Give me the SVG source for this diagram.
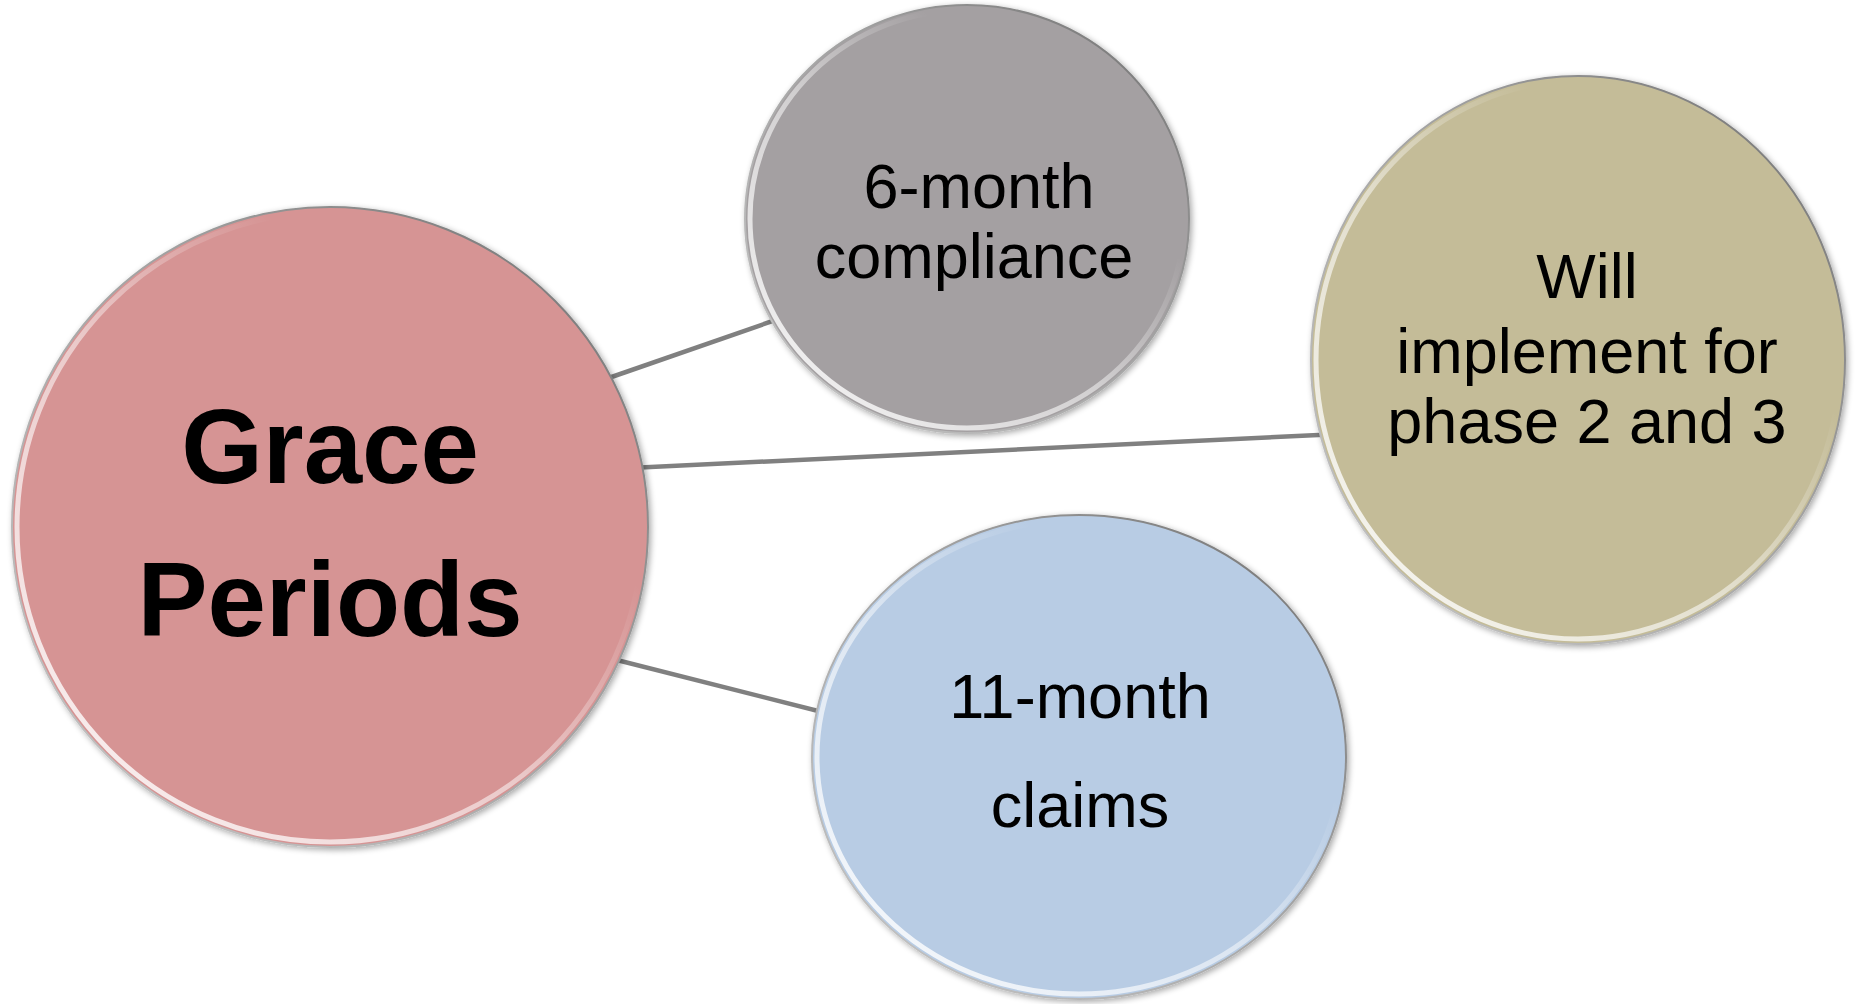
<svg xmlns="http://www.w3.org/2000/svg" width="1855" height="1004" viewBox="0 0 1855 1004">
  <defs>
    <linearGradient id="hl" x1="0" y1="1" x2="1" y2="0">
      <stop offset="0" stop-color="#ffffff" stop-opacity="0.95"/>
      <stop offset="0.45" stop-color="#ffffff" stop-opacity="0.5"/>
      <stop offset="0.7" stop-color="#ffffff" stop-opacity="0"/>
    </linearGradient>
    <linearGradient id="rim" x1="0" y1="1" x2="1" y2="0">
      <stop offset="0" stop-color="#c8c8c8"/>
      <stop offset="0.6" stop-color="#a0a0a0"/>
      <stop offset="1" stop-color="#6e6e6e"/>
    </linearGradient>
    <filter id="sh" x="-10%" y="-10%" width="120%" height="120%">
      <feGaussianBlur in="SourceAlpha" stdDeviation="3"/>
      <feOffset dx="2" dy="2"/>
      <feComponentTransfer><feFuncA type="linear" slope="0.35"/></feComponentTransfer>
      <feMerge><feMergeNode/><feMergeNode in="SourceGraphic"/></feMerge>
    </filter>
  </defs>
  <style>
    .conn { stroke: #808080; stroke-width: 4.5; fill: none; }
    .body { stroke: url(#rim); stroke-width: 2; filter: url(#sh); }
    .hl { fill: none; stroke: url(#hl); stroke-width: 5; }
    .t { font-family: "Liberation Sans", Arial, sans-serif; font-size: 63px; fill: #000; text-anchor: middle; }
    .tb { font-family: "Liberation Sans", Arial, sans-serif; font-size: 105px; font-weight: bold; fill: #000; text-anchor: middle; }
  </style>
  <rect width="1855" height="1004" fill="#ffffff"/>
  <g id="connectors">
    <line class="conn" x1="600" y1="381" x2="790" y2="315"/>
    <line class="conn" x1="630" y1="468" x2="1340" y2="434"/>
    <line class="conn" x1="605" y1="657" x2="830" y2="714"/>
  </g>
  <g id="node-grace">
    <ellipse class="body" cx="330" cy="527" rx="318" ry="320" fill="#d69494"/>
    <ellipse class="hl" cx="330" cy="527" rx="313" ry="315"/>
    <text class="tb" x="330" y="483">Grace</text>
    <text class="tb" x="330" y="636">Periods</text>
  </g>
  <g id="node-6month">
    <ellipse class="body" cx="967" cy="219" rx="222" ry="214" fill="#a4a0a2"/>
    <ellipse class="hl" cx="967" cy="219" rx="217" ry="209"/>
    <text class="t" x="979" y="208">6-month</text>
    <text class="t" x="974" y="278">compliance</text>
  </g>
  <g id="node-phase">
    <ellipse class="body" cx="1578" cy="360" rx="267" ry="284" fill="#c4bc98"/>
    <ellipse class="hl" cx="1578" cy="360" rx="262" ry="279"/>
    <text class="t" x="1587" y="298">Will</text>
    <text class="t" x="1587" y="373">implement for</text>
    <text class="t" x="1587" y="443">phase 2 and 3</text>
  </g>
  <g id="node-11month">
    <ellipse class="body" cx="1079" cy="757" rx="267" ry="242" fill="#b8cce4"/>
    <ellipse class="hl" cx="1079" cy="757" rx="262" ry="237"/>
    <text class="t" x="1080" y="718">11-month</text>
    <text class="t" x="1080" y="827">claims</text>
  </g>
</svg>
